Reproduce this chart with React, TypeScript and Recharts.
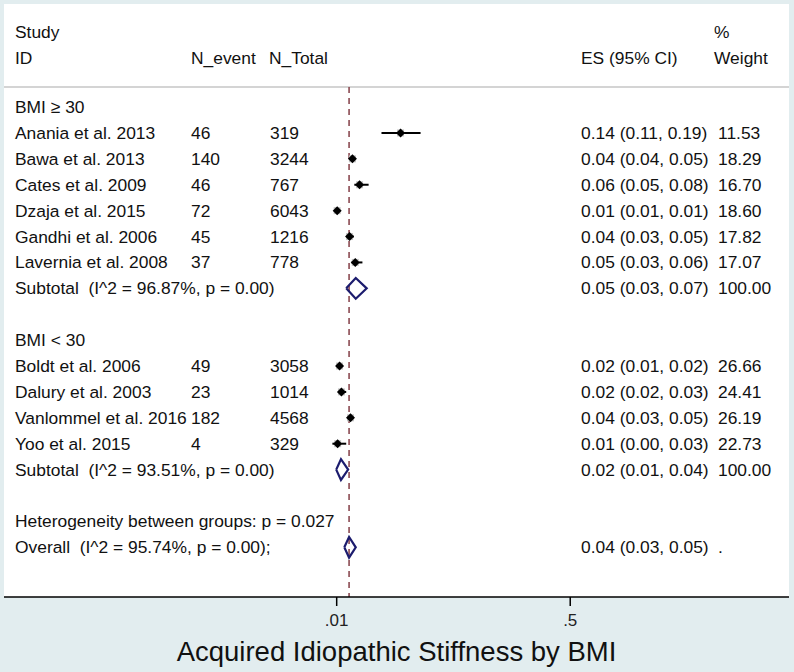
import React from 'react';
import { ComposedChart, Scatter, XAxis, YAxis, ErrorBar, ReferenceLine, CartesianGrid } from 'recharts';

// study level data
const studies = ['Anania et al. 2013', 'Bawa et al. 2013', 'Cates et al. 2009', 'Dzaja et al. 2015', 'Gandhi et al. 2006', 'Lavernia et al. 2008', 'Boldt et al. 2006', 'Dalury et al. 2003', 'Vanlommel et al. 2016', 'Yoo et al. 2015'];
const studyGroup = [0, 0, 0, 0, 0, 0, 1, 1, 1, 1];
const nEvent = ['46', '140', '46', '72', '45', '37', '49', '23', '182', '4'];
const nTotal = ['319', '3244', '767', '6043', '1216', '778', '3058', '1014', '4568', '329'];
const es = [0.144, 0.043, 0.058, 0.011, 0.037, 0.049, 0.016, 0.02, 0.039, 0.012];
const lo = [0.104, 0.038, 0.047, 0.009, 0.031, 0.041, 0.013, 0.014, 0.034, 0.001];
const hi = [0.186, 0.05, 0.077, 0.013, 0.046, 0.064, 0.02, 0.03, 0.046, 0.03];
const esLabels = ['0.14 (0.11, 0.19)', '0.04 (0.04, 0.05)', '0.06 (0.05, 0.08)', '0.01 (0.01, 0.01)', '0.04 (0.03, 0.05)', '0.05 (0.03, 0.06)', '0.02 (0.01, 0.02)', '0.02 (0.02, 0.03)', '0.04 (0.03, 0.05)', '0.01 (0.00, 0.03)'];
const weights = ['11.53', '18.29', '16.70', '18.60', '17.82', '17.07', '26.66', '24.41', '26.19', '22.73'];

// subgroup summaries
const groupLabels = ['BMI ≥ 30', 'BMI < 30'];
const subLabels = ['Subtotal  (I^2 = 96.87%, p = 0.00)', 'Subtotal  (I^2 = 93.51%, p = 0.00)'];
const subEs = [0.05, 0.019];
const subLo = [0.03, 0.009];
const subHi = [0.073, 0.034];
const subEsLabels = ['0.05 (0.03, 0.07)', '0.02 (0.01, 0.04)'];

// overall
const hetLabel = 'Heterogeneity between groups: p = 0.027';
const overallLabel = 'Overall  (I^2 = 95.74%, p = 0.00);';
const overallEs = 0.036;
const overallLo = 0.026;
const overallHi = 0.05;
const overallEsLabel = '0.04 (0.03, 0.05)';

const xTicks = [0.01, 0.5];
const xTickLabels = ['.01', '.5'];
const title = 'Acquired Idiopathic Stiffness by BMI';

const FONT = '"Liberation Sans", Arial, sans-serif';
const NAVY = '#1c1c6e';

// build rows in display order
type Row = { kind: string; name?: string; ev?: string; tot?: string; es?: string; w?: string };
const rows: Row[] = [{ kind: 'head1' }, { kind: 'head2' }, { kind: 'sep' }];
const studyPts: any[] = [];
const summaries: any[] = [];
groupLabels.forEach((g, gi) => {
    rows.push({ kind: 'group', name: g });
    studies.forEach((s, i) => {
        if (studyGroup[i] !== gi) return;
        studyPts.push({ x: es[i], y: rows.length, err: [es[i] - lo[i], hi[i] - es[i]] });
        rows.push({ kind: 'study', name: s, ev: nEvent[i], tot: nTotal[i], es: esLabels[i], w: weights[i] });
    });
    summaries.push({ es: subEs[gi], lo: subLo[gi], hi: subHi[gi], y: rows.length });
    rows.push({ kind: 'sub', name: subLabels[gi], es: subEsLabels[gi], w: '100.00' });
    rows.push({ kind: 'blank' });
});
rows.push({ kind: 'het', name: hetLabel });
summaries.push({ es: overallEs, lo: overallLo, hi: overallHi, y: rows.length });
rows.push({ kind: 'overall', name: overallLabel, es: overallEsLabel, w: '.' });

const diamond = (d: any) => [
    { x: d.lo, y: d.y },
    { x: d.es, y: d.y - 0.4 },
    { x: d.hi, y: d.y },
    { x: d.es, y: d.y + 0.4 },
    { x: d.lo, y: d.y },
];

const rowTicks = rows.map((r, i) => i).filter(i => rows[i].kind !== 'sep' && rows[i].kind !== 'blank');

const RowTick = (props: any) => {
    const { y, payload } = props;
    const r = rows[payload.value];
    if (!r) return null;
    const x0 = 4;
    const t = (dx: number, s: string, dy = 0) => (
        <text x={x0 + dx} y={y + dy} dominantBaseline="central" textAnchor="start" fontSize={17.4} fontFamily={FONT} fill="#111" style={{ whiteSpace: 'pre' }}>{s}</text>
    );
    if (r.kind === 'head1') return <g>{t(11, 'Study', 3)}{t(710, '%', 3)}</g>;
    if (r.kind === 'head2') return <g>{t(11, 'ID', 3)}{t(187, 'N_event', 3)}{t(265, 'N_Total', 3)}{t(577, 'ES (95% CI)', 3)}{t(710, 'Weight', 3)}</g>;
    return (
        <g>
            {r.name && t(11, r.name)}
            {r.ev && t(187, r.ev)}
            {r.tot && t(266, r.tot)}
            {r.es && t(577, r.es)}
            {r.w && t(714, r.w)}
        </g>
    );
};

const StudyDot = (props: any) => {
    const { cx, cy } = props;
    return (
        <g>
            <rect x={cx - 3.5} y={cy - 3.5} width={7} height={7} fill="#c4c4c4" />
            <path d={`M${cx - 4.5},${cy} L${cx},${cy - 4.5} L${cx + 4.5},${cy} L${cx},${cy + 4.5} Z`} fill="#000" />
        </g>
    );
};

export default function App() {
    return (
        <div style={{ position: 'absolute', left: 0, top: 0, width: 794, height: 672, background: '#e2edef' }}>
            <ComposedChart width={794} height={672} data={studyPts} margin={{ top: 4, right: 5, bottom: 45, left: 3 }}>
                <CartesianGrid horizontal={false} vertical={false} fill="#fff" />
                <XAxis
                    type="number"
                    dataKey="x"
                    domain={[-0.688, 0.959]}
                    allowDataOverflow
                    ticks={xTicks}
                    tickFormatter={(v: number) => xTickLabels[xTicks.indexOf(v)]}
                    interval={0}
                    height={30}
                    tickSize={9}
                    tickMargin={8}
                    stroke="#000"
                    strokeWidth={1.5}
                    tick={{ fontSize: 17, fill: '#222', fontFamily: FONT }}
                    label={{ value: title, position: 'bottom', offset: 14, fontSize: 27.5, fill: '#111', fontFamily: FONT }}
                />
                <YAxis
                    type="number"
                    dataKey="y"
                    domain={[-0.98, 21.92]}
                    allowDataOverflow
                    reversed
                    width={1}
                    ticks={rowTicks}
                    interval={0}
                    axisLine={false}
                    tickLine={false}
                    tick={RowTick}
                />
                <ReferenceLine y={2.23} stroke="#d4d4d4" strokeWidth={2} />
                <ReferenceLine
                    segment={[{ x: overallEs, y: 2.23 }, { x: overallEs, y: 21.92 }]}
                    stroke="#8b4a52"
                    strokeWidth={1.6}
                    strokeDasharray="6 5"
                />
                <Scatter data={studyPts} dataKey="y" shape={<StudyDot />} isAnimationActive={false}>
                    <ErrorBar dataKey="err" direction="x" width={0} stroke="#000" strokeWidth={2} isAnimationActive={false} />
                </Scatter>
                {summaries.map((d, i) => (
                    <Scatter
                        key={i}
                        data={diamond(d)}
                        dataKey="y"
                        line={{ stroke: NAVY, strokeWidth: 2.2 }}
                        shape={() => <g />}
                        isAnimationActive={false}
                    />
                ))}
            </ComposedChart>
        </div>
    );
}
